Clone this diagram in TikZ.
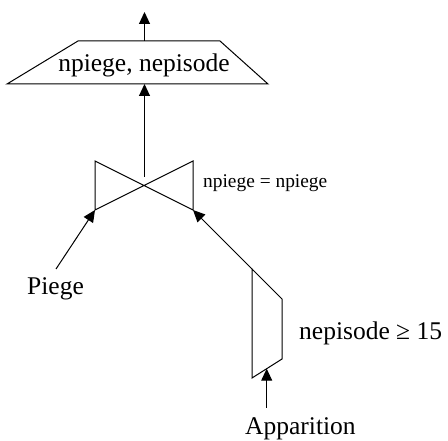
\documentclass[tikz,border=0pt]{standalone}
\usepackage{fontspec}
\setmainfont{Liberation Serif}
\usetikzlibrary{arrows.meta}
\begin{document}
\begin{tikzpicture}[x=1pt,y=-1pt,
  shapeline/.style={draw=black,line width=1pt,line join=miter},
  flow/.style={draw=black,line width=1pt,-{Triangle[length=12pt,width=11pt]}},
  bigtxt/.style={inner sep=0pt,font=\fontsize{25.5}{28}\selectfont},
  smalltxt/.style={inner sep=0pt,font=\fontsize{19.4}{22}\selectfont}]
\useasboundingbox (0,0) rectangle (448,441);
% projection trapezoid
\coordinate (pTL) at (78,41);
\coordinate (pTR) at (220,41);
\coordinate (pBR) at (268,84);
\coordinate (pBL) at (7,84);
\coordinate (pTop) at (144.5,41);
\coordinate (pBot) at (144.5,84);
\coordinate (outEnd) at (144.5,12);
\draw[shapeline] (pTL) -- (pTR) -- (pBR) -- (pBL) -- cycle;
\node[bigtxt,anchor=base] (ptxt) at (144,72) {npiege, nepisode};
% join bowtie
\coordinate (jTL) at (95,161);
\coordinate (jBL) at (95,210);
\coordinate (jTR) at (193,161);
\coordinate (jBR) at (193,210);
\coordinate (jMid) at (144.5,177);
\draw[shapeline] (jTL) -- (jBR) -- (jTR) -- (jBL) -- cycle;
\node[smalltxt,anchor=base west] (jtxt) at (203,188) {npiege = npiege};
% selection
\coordinate (sTL) at (252,269);
\coordinate (sTR) at (282,299);
\coordinate (sBR) at (282,359);
\coordinate (sBL) at (252,378);
\coordinate (sBot) at (266.7,368.7);
\draw[shapeline] (sTL) -- (sTR) -- (sBR) -- (sBL) -- cycle;
\node[bigtxt,anchor=base west] (stxt) at (299,340) {nepisode ≥ 15};
% relations
\node[bigtxt,anchor=base west] (piege) at (27,295) {Piege};
\node[bigtxt,anchor=base west] (appar) at (245,435) {Apparition};
\coordinate (piegeEnd) at (56,269);
\coordinate (apparEnd) at (266.7,408);
% connectors
\draw[flow] (pTop) -- (outEnd);
\draw[flow] (jMid) -- (pBot);
\draw[flow] (piegeEnd) -- (jBL);
\draw[flow] (sTL) -- (jBR);
\draw[flow] (apparEnd) -- (sBot);
\end{tikzpicture}
\end{document}
